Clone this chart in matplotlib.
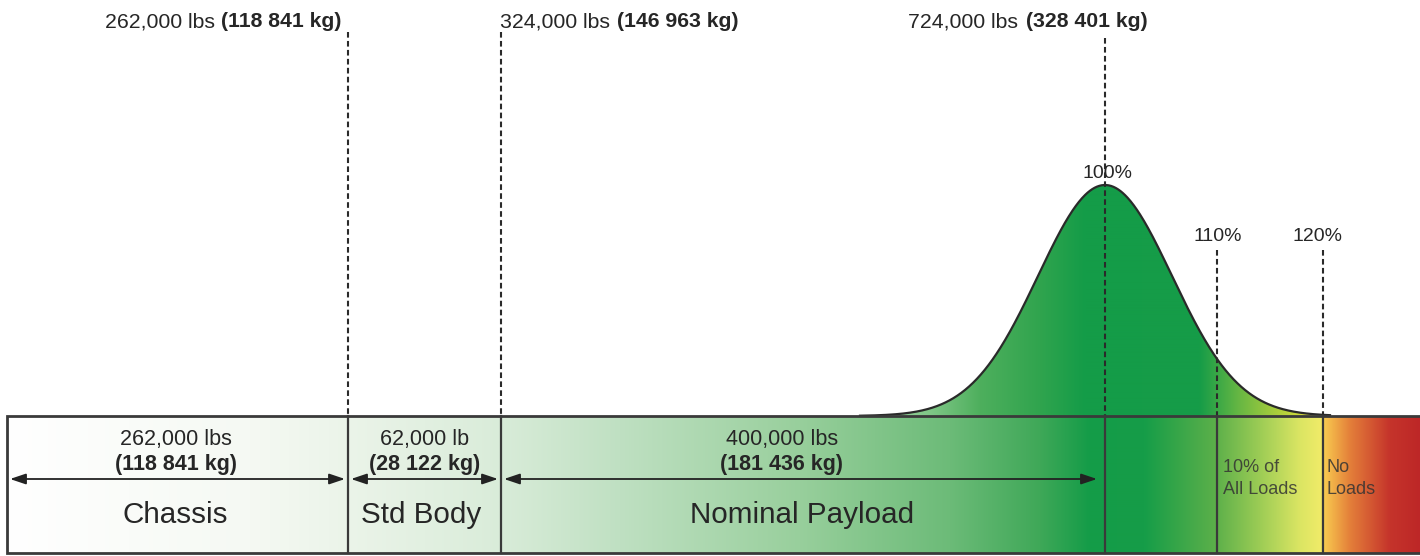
import numpy as np
import matplotlib
matplotlib.use("Agg")
import matplotlib.pyplot as plt
from matplotlib import font_manager as fm
from matplotlib.colors import LinearSegmentedColormap
from matplotlib.patches import Polygon

_names = {f.name for f in fm.fontManager.ttflist}
_fam = next((n for n in ['Liberation Sans', 'Arial', 'Nimbus Sans', 'Roboto'] if n in _names),
            'DejaVu Sans')
plt.rcParams['font.family'] = [_fam, 'DejaVu Sans']

# ---- data ----
segments = ["Chassis", "Std Body", "Nominal Payload"]
segment_lbs = ["262,000 lbs", "62,000 lb", "400,000 lbs"]
segment_kg = ["(118 841 kg)", "(28 122 kg)", "(181 436 kg)"]
cumulative_lbs = ["262,000 lbs", "324,000 lbs", "724,000 lbs"]
cumulative_kg = ["(118 841 kg)", "(146 963 kg)", "(328 401 kg)"]
percent_labels = ["100%", "110%", "120%"]
zone_labels = ["10% of\nAll Loads", "No\nLoads"]

# ---- layout (pixel space) ----
W, H = 1420, 556
left, right = 7, 1420
box_top, box_bot = 416, 553
seg_edges = [left, 348, 501, 1105]
pct_x = [1105, 1217, 1323]
peak_y = 185
sigma = 67.0

fig = plt.figure(figsize=(W / 100, H / 100), dpi=100)
ax = fig.add_axes([0, 0, 1, 1])
ax.set_xlim(0, W)
ax.set_ylim(H, 0)
ax.axis('off')

txt = '#262626'
edge = '#3a3a3a'

# gradient for the bar
bar_stops = [(7, '#ffffff'), (250, '#f5f9f3'), (348, '#ebf4e9'), (501, '#d9ecd9'),
             (620, '#bfe0c2'), (800, '#98cf9c'), (950, '#6cbb78'), (1040, '#3fa858'),
             (1090, '#149c48'), (1145, '#169d48'), (1217, '#5db04a'), (1260, '#9ccc55'),
             (1300, '#dbe563'), (1321, '#f0eb68'), (1325, '#f8c94f'), (1350, '#e4803a'),
             (1390, '#c5342b'), (1420, '#bd2727')]
xs_b = np.array([s[0] for s in bar_stops], float)
cmap_bar = LinearSegmentedColormap.from_list(
    'bar', [((x - xs_b[0]) / (xs_b[-1] - xs_b[0]), c) for x, c in bar_stops], N=4096)
grad = np.linspace(0, 1, 2826).reshape(1, -1)
ax.imshow(grad, cmap=cmap_bar, extent=[left, right, box_bot, box_top],
          aspect='auto', interpolation='bilinear', zorder=1)

# bell curve
bx = np.linspace(860, 1330, 600)
by = box_top - (box_top - peak_y) * np.exp(-((bx - pct_x[0]) ** 2) / (2 * sigma ** 2))
bell_stops = [(860, '#a6d8aa'), (930, '#80c787'), (980, '#4eaf5d'), (1040, '#30a44e'),
              (1085, '#149c48'), (1200, '#169c48'), (1240, '#68b743'), (1275, '#a6cc3c'),
              (1305, '#d6dc3a'), (1330, '#e6e23a')]
xs_c = np.array([s[0] for s in bell_stops], float)
cmap_bell = LinearSegmentedColormap.from_list(
    'bell', [((x - xs_c[0]) / (xs_c[-1] - xs_c[0]), c) for x, c in bell_stops], N=2048)
im2 = ax.imshow(np.linspace(0, 1, 940).reshape(1, -1), cmap=cmap_bell,
                extent=[860, 1330, box_top, peak_y - 2], aspect='auto',
                interpolation='bilinear', zorder=1)
poly = Polygon(np.column_stack([np.r_[bx, bx[-1], bx[0]], np.r_[by, box_top, box_top]]),
               closed=True, transform=ax.transData, facecolor='none', edgecolor='none')
ax.add_patch(poly)
im2.set_clip_path(poly)
ax.plot(bx, by, color='#2a2a2a', lw=1.6, zorder=3)

# bar outline
ax.plot([right, left, left, right], [box_top, box_top, box_bot, box_bot],
        color=edge, lw=2.0, zorder=4, solid_joinstyle='miter')

# dividers: dashed above the bar, solid inside
dash_tops = [32, 32, 38, 250, 250]
for x, yt in zip(seg_edges[1:] + pct_x[1:], dash_tops):
    ax.plot([x, x], [yt, box_top], color='#2a2a2a', lw=1.5, dashes=(2.7, 1.6), zorder=3)
    ax.plot([x, x], [box_top, box_bot], color=edge, lw=1.6, zorder=4)

# top cumulative labels
top_pos = [(215, 221), (610, 617), (1018, 1026)]
for (xn, xb), lb, kg in zip(top_pos, cumulative_lbs, cumulative_kg):
    ax.text(xn, 27, lb, ha='right', va='baseline', fontsize=15.3, color=txt)
    ax.text(xb, 27, kg, ha='left', va='baseline', fontsize=15.3, color=txt, fontweight='bold')

# segment labels and arrows
arrow_y = 479
lab_xs = [176, 425, 782]
name_xs = [175, 421, 802]
for i, (name, lb, kg) in enumerate(zip(segments, segment_lbs, segment_kg)):
    x0, x1 = seg_edges[i], seg_edges[i + 1]
    a0 = x0 + 3
    a1 = x1 - 3 if i < 2 else x1 - 8
    ax.text(lab_xs[i], 445, lb, ha='center', va='baseline', fontsize=15.5, color=txt)
    ax.text(lab_xs[i], 470, kg, ha='center', va='baseline', fontsize=15.5, color=txt,
            fontweight='bold')
    ax.annotate('', xy=(a1, arrow_y), xytext=(a0, arrow_y),
                arrowprops=dict(arrowstyle='<|-|>,head_length=0.95,head_width=0.32',
                                color='#222222', lw=1.3, shrinkA=0, shrinkB=0),
                zorder=5)
    ax.text(name_xs[i], 523, name, ha='center', va='baseline', fontsize=21.3, color=txt)

# percent labels
pct_y = [178, 241, 241]
pct_lx = [1107, 1218, 1318]
for x, y, p in zip(pct_lx, pct_y, percent_labels):
    ax.text(x, y, p, ha='center', va='baseline', fontsize=14, color=txt)

# zone labels
for zx, zl in zip([1223, 1327], zone_labels):
    for k, line in enumerate(zl.split('\n')):
        ax.text(zx, 471.5 + 23 * k, line, ha='left', va='baseline', fontsize=13,
                color='#333333', alpha=0.85)

fig.savefig('out.png', dpi=100)
